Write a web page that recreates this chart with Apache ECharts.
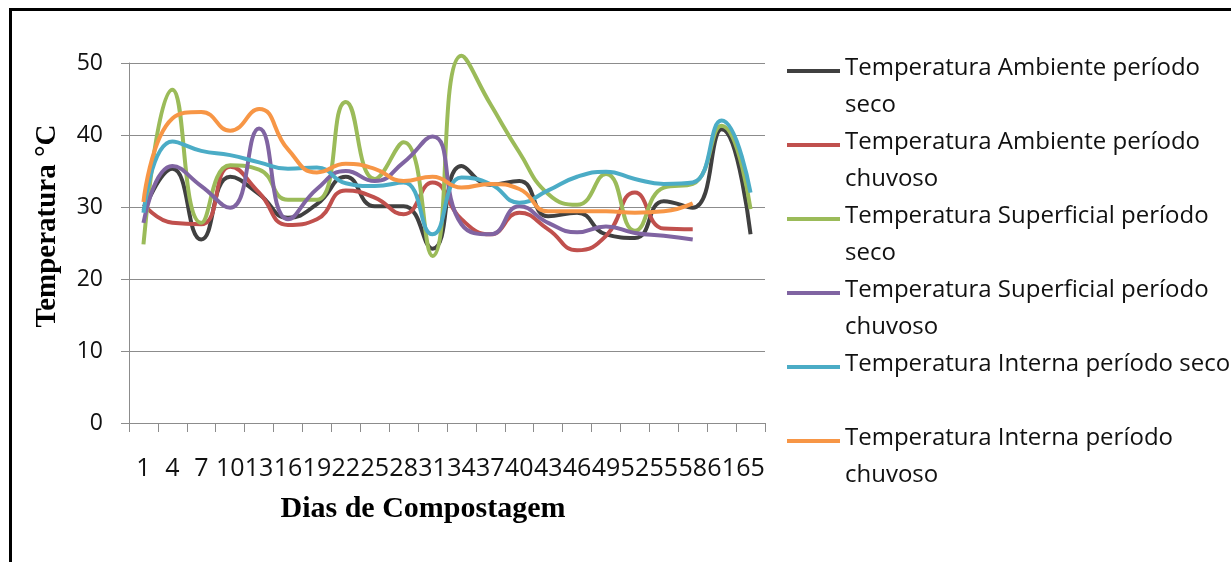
<!DOCTYPE html>
<html>
<head>
<meta charset="utf-8">
<script src="https://cdn.jsdelivr.net/npm/echarts@6/dist/echarts.min.js"></script>
<style>
html,body{margin:0;padding:0;background:#fff;}
#wrap{position:relative;width:1231px;height:562px;overflow:hidden;background:#fff;}
#chart{position:absolute;left:0;top:0;width:1231px;height:562px;}
#frame{position:absolute;left:9px;top:8px;width:1300px;height:700px;border-top:3px solid #000;border-left:3px solid #000;pointer-events:none;}
</style>
</head>
<body>
<div id="wrap"><div id="chart"></div><div id="frame"></div></div>
<script>
// ---- data ----
var categories = ['1','4','7','10','13','16','19','22','25','28','31','34','37','40','43','46','49','52','55','58','61','65'];
var seriesNames = [
  'Temperatura Ambiente período seco',
  'Temperatura Ambiente período chuvoso',
  'Temperatura Superficial período seco',
  'Temperatura Superficial período chuvoso',
  'Temperatura Interna período seco',
  'Temperatura Interna período chuvoso'
];
var ambienteSeco     = [29.5, 35.3, 25.5, 34.2, 31.8, 28.5, 30.4, 34.2, 30.1, 30.1, 24.2, 35.7, 33.1, 33.6, 28.7, 29.2, 26.2, 25.7, 30.8, 29.9, 40.8, 26.2];
var ambienteChuvoso  = [30.4, 27.8, 27.6, 35.6, 32.0, 27.5, 28.3, 32.3, 31.3, 29.0, 33.4, 28.3, 26.2, 29.2, 26.9, 24.0, 26.0, 32.0, 27.0, 26.9, null, null];
var superficialSeco  = [24.8, 46.3, 27.8, 35.8, 35.2, 31.0, 31.0, 44.6, 33.9, 39.0, 23.2, 51.0, 44.3, 37.6, 31.8, 30.3, 34.6, 26.7, 32.7, 33.2, 41.3, 29.7];
var superficialChuv  = [27.8, 35.7, 32.9, 29.9, 40.9, 28.3, 32.5, 35.0, 33.6, 36.2, 39.8, 27.6, 26.2, 30.1, 27.8, 26.5, 27.3, 26.4, 26.0, 25.5, null, null];
var internaSeco      = [29.2, 39.1, 37.8, 37.2, 36.2, 35.3, 35.5, 33.3, 32.9, 33.4, 26.2, 34.1, 33.2, 30.6, 32.3, 34.2, 34.9, 33.9, 33.2, 33.4, 42.0, 32.0];
var internaChuvoso   = [30.7, 42.3, 43.2, 40.6, 43.6, 38.0, 34.8, 36.0, 35.3, 33.6, 34.2, 32.7, 33.2, 32.5, 29.4, 29.4, 29.4, 29.2, 29.4, 30.5, null, null];
var seriesData = [ambienteSeco, ambienteChuvoso, superficialSeco, superficialChuv, internaSeco, internaChuvoso];
var colors = ['#404040', '#C0504D', '#9BBB59', '#8064A2', '#4BACC6', '#F79646'];

var chart = echarts.init(document.getElementById('chart'), null, {renderer: 'canvas'});

var series = seriesNames.map(function (n, i) {
  return {
    name: n,
    type: 'line',
    data: seriesData[i],
    smooth: 0.5,
    showSymbol: false,
    symbol: 'none',
    clip: false,
    connectNulls: false,
    lineStyle: {color: colors[i], width: 4},
    itemStyle: {color: colors[i]}
  };
});

var legendIcon = 'path://M0,0H53V4H0Z M0,36H0.01V36.01H0Z';

chart.setOption({
  animation: false,
  backgroundColor: '#fff',
  color: colors,
  grid: {left: 129, right: 466, top: 63, bottom: 139, containLabel: false},
  legend: {
    orient: 'vertical',
    left: 787,
    top: 50,
    padding: 0,
    itemGap: 0,
    itemWidth: 53,
    itemHeight: 37,
    icon: legendIcon,
    selectedMode: false,
    textStyle: {fontFamily: 'Open Sans', fontSize: 24, color: '#111', lineHeight: 37},
    formatter: function (name) {
      if (name === 'Temperatura Interna período seco') return name + '\n ';
      var k = name.lastIndexOf(' ');
      return name.slice(0, k) + '\n' + name.slice(k + 1);
    },
    data: seriesNames
  },
  xAxis: {
    type: 'category',
    data: categories,
    boundaryGap: true,
    name: 'Dias de Compostagem',
    nameLocation: 'middle',
    nameGap: 71,
    nameTextStyle: {fontFamily: 'Liberation Serif', fontWeight: 'bold', fontSize: 30, color: '#000', padding: [0, 48, 0, 0]},
    axisLine: {show: true, lineStyle: {color: '#8c8c8c', width: 1}},
    axisTick: {show: true, length: 9, interval: 0, lineStyle: {color: '#8c8c8c'}},
    axisLabel: {interval: 0, margin: 33, fontFamily: 'Open Sans', fontSize: 25, color: '#111'},
    splitLine: {show: false}
  },
  yAxis: {
    type: 'value',
    min: 0,
    max: 50,
    interval: 10,
    name: 'Temperatura °C',
    nameLocation: 'middle',
    nameGap: 67,
    nameRotate: 90,
    nameTextStyle: {fontFamily: 'Liberation Serif', fontWeight: 'bold', fontSize: 29, color: '#000', padding: [0, 0, 0, 34]},
    axisLine: {show: true, lineStyle: {color: '#8c8c8c', width: 1}},
    axisTick: {show: true, length: 8, lineStyle: {color: '#8c8c8c'}},
    axisLabel: {margin: 26, fontFamily: 'Open Sans', fontSize: 23, color: '#111'},
    splitLine: {show: true, lineStyle: {color: '#8c8c8c', width: 1}}
  },
  series: series
});
</script>
</body>
</html>
